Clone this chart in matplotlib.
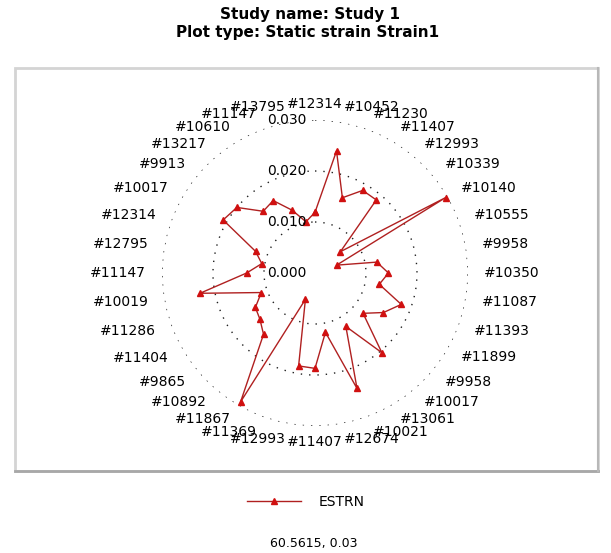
import numpy as np
import matplotlib.pyplot as plt
from matplotlib.patches import Rectangle

# gauge ids around the dial, clockwise from the top
gauges = ["#12314", "#10452", "#11230", "#11407", "#12993", "#10339",
          "#10140", "#10555", "#9958", "#10350", "#11087", "#11393",
          "#11899", "#9958", "#10017", "#13061", "#10021", "#12674",
          "#11407", "#12993", "#11369", "#11867", "#10892", "#9865",
          "#11404", "#11286", "#10019", "#11147", "#12795", "#12314",
          "#10017", "#9913", "#13217", "#10610", "#11147", "#13795"]

# static strain ESTRN per gauge
estrn = [0.0119, 0.0243, 0.0157, 0.0187, 0.0187, 0.0065,
         0.0296, 0.0045, 0.0123, 0.0144, 0.0128, 0.0180,
         0.0155, 0.0123, 0.0204, 0.0121, 0.0241, 0.0118,
         0.0187, 0.0185, 0.0055, 0.0292, 0.0157, 0.0141,
         0.0135, 0.0112, 0.0229, 0.0134, 0.0106, 0.0124,
         0.0208, 0.0200, 0.0158, 0.0164, 0.0131, 0.0102]

rings = [0.0, 0.01, 0.02, 0.03]
ring_labels = ["0.000", "0.010", "0.020", "0.030"]

W, H = 611, 553
fig = plt.figure(figsize=(W / 100, H / 100), dpi=100)

# sunken frame around the plot area
fig.add_artist(Rectangle((15 / W, 1 - 471 / H), 583 / W, 403 / H,
                         transform=fig.transFigure, fill=False,
                         edgecolor="#d4d4d4", lw=2))
fig.add_artist(plt.Line2D([15 / W, 598 / W], [1 - 471 / H, 1 - 471 / H],
                          transform=fig.transFigure, color="#a8a8a8", lw=2))
fig.add_artist(plt.Line2D([598 / W, 598 / W], [1 - 471 / H, 1 - 68 / H],
                          transform=fig.transFigure, color="#b8b8b8", lw=1.5))

cx, cy, rad = 315, 273, 153
ax = fig.add_axes([(cx - rad) / W, (H - cy - rad) / H, 2 * rad / W, 2 * rad / H],
                  projection="polar")
ax.set_theta_zero_location("N")
ax.set_theta_direction(-1)
ax.set_ylim(0, 0.03)
ax.set_facecolor("none")
ax.spines["polar"].set_visible(False)
ax.set_xticks([])
ax.set_yticks(rings[1:])
ax.set_yticklabels([])
ax.yaxis.grid(True, color="#202020", linestyle=(0, (1, 5)), lw=1)
ax.xaxis.grid(False)

theta = np.deg2rad(np.arange(len(gauges)) * 360 / len(gauges))
ax.plot(np.append(theta, theta[0]), estrn + estrn[:1], color="#b02020",
        lw=1, marker="^", ms=5, mfc="#d01010", mec="#d01010",
        label="ESTRN", clip_on=False)

# ring values up the top spoke
for r, t in zip(rings, ring_labels):
    ax.annotate(t, (0, r), xytext=(-6, 0), textcoords="offset points",
                ha="right", va="center", fontsize=10, annotation_clip=False)

# gauge names outside the outer ring
r_lab = 0.03 * 169 / 153
for th, g in zip(theta, gauges):
    s = np.sin(th)
    if abs(s) < 0.05:
        ha = "center"
    elif s > 0:
        ha = "left"
    else:
        ha = "right"
    ax.text(th, r_lab, g, ha=ha, va="center", fontsize=10, clip_on=False)

fig.text(310 / W, 1 - 14 / H, "Study name: Study 1", ha="center", va="center",
         fontsize=11, fontweight="bold")
fig.text(308 / W, 1 - 33 / H, "Plot type: Static strain Strain1", ha="center",
         va="center", fontsize=11, fontweight="bold")

fig.legend(loc="center", bbox_to_anchor=(306 / W, 1 - 502 / H), frameon=False,
           fontsize=10, handlelength=3.9, handletextpad=1.3, numpoints=1)
fig.text(314 / W, 1 - 543 / H, "60.5615, 0.03", ha="center", va="center",
         fontsize=9)

fig.savefig("out.png", dpi=100)
